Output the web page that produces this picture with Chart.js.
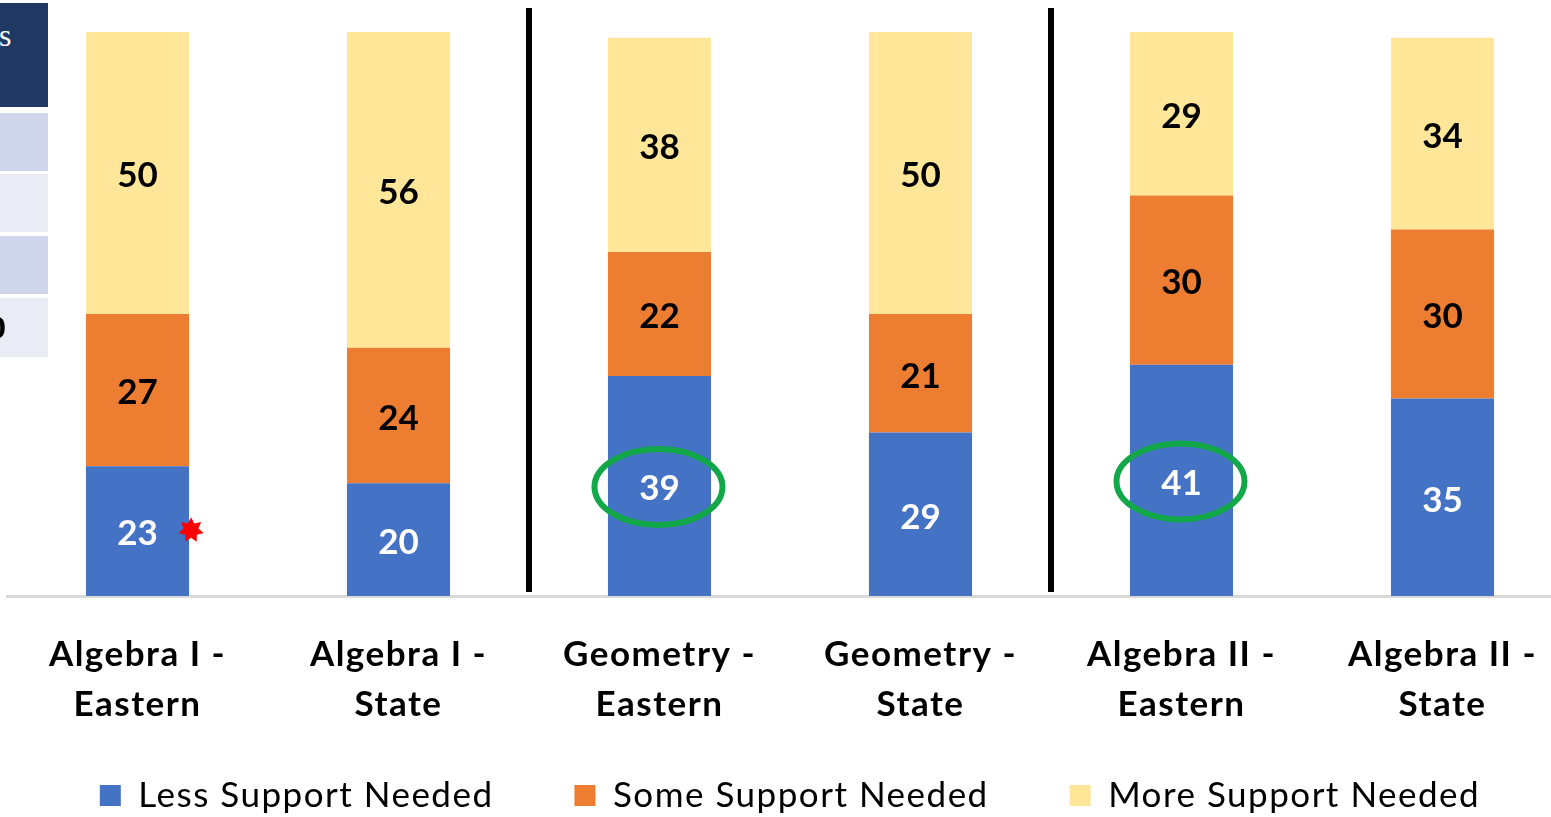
<!DOCTYPE html>
<html>
<head>
<meta charset="utf-8">
<script src="https://cdn.jsdelivr.net/npm/chart.js@4/dist/chart.umd.min.js"></script>
<style>
  body { margin: 0; overflow: hidden; background: #fff; width: 1551px; height: 817px; position: relative; }
  #myChart { position: absolute; left: 0; top: 0; }
  .cell { position: absolute; left: 0; width: 48px; overflow: hidden; }
  .head { top: 3px; height: 104px; background: #203864; }
  .head span { position: absolute; left: -1px; top: 14px; color: #fff; font: 32px 'Liberation Serif', serif; }
  .r1 { top: 113px; height: 58px; background: #cfd5ea; }
  .r2 { top: 174px; height: 58px; background: #e9ebf5; }
  .r3 { top: 236px; height: 58px; background: #cfd5ea; }
  .r4 { top: 298px; height: 59px; background: #e9ebf5; }
  .r4 span { position: absolute; left: -10px; top: 11px; color: #000; font: bold 32px 'Liberation Serif', serif; }
</style>
</head>
<body>
<canvas id="myChart" width="1573" height="823"></canvas>
<div class="cell head"><span>s</span></div>
<div class="cell r1"></div>
<div class="cell r2"></div>
<div class="cell r3"></div>
<div class="cell r4"><span>0</span></div>
<script>
'use strict'
const labels = [
  ['Algebra I -', 'Eastern'],
  ['Algebra I -', 'State'],
  ['Geometry -', 'Eastern'],
  ['Geometry -', 'State'],
  ['Algebra II -', 'Eastern'],
  ['Algebra II -', 'State'],
]
const lessSupport = [23, 20, 39, 29, 41, 35]
const someSupport = [27, 24, 22, 21, 30, 30]
const moreSupport = [50, 56, 38, 50, 29, 34]
// marks drawn over the chart
const circled = [2, 4]
const starred = [0]
const dividers = [1.5, 3.5]

const font = 'Lato, "Open Sans", sans-serif'

// the original text is set a little loose
const spacing = {
  id: 'spacing',
  beforeLayout(chart) {
    chart.ctx.letterSpacing = '1.5px'
  },
}

// numbers in the middle of each segment
const segmentLabels = {
  id: 'segmentLabels',
  afterDatasetsDraw(chart) {
    const ctx = chart.ctx
    ctx.save()
    ctx.letterSpacing = '0px'
    ctx.font = `bold 35px ${font}`
    ctx.textAlign = 'center'
    ctx.textBaseline = 'middle'
    chart.data.datasets.forEach((ds, i) => {
      chart.getDatasetMeta(i).data.forEach((bar, j) => {
        const y = (bar.y + bar.base) / 2
        ctx.fillStyle = i === 0 ? '#ffffff' : '#000000'
        ctx.fillText(ds.data[j], bar.x, y + 3)
      })
    })
    ctx.restore()
  },
}

// divider lines, green circles and the red star
const annotations = {
  id: 'annotations',
  afterDraw(chart) {
    const ctx = chart.ctx
    const x = chart.scales.x
    const area = chart.chartArea
    ctx.save()
    ctx.strokeStyle = '#000'
    ctx.lineWidth = 6
    dividers.forEach((d) => {
      const px = (x.getPixelForValue(Math.floor(d)) + x.getPixelForValue(Math.ceil(d))) / 2
      ctx.beginPath()
      ctx.moveTo(px, 8)
      ctx.lineTo(px, area.bottom - 4)
      ctx.stroke()
    })
    const blue = chart.getDatasetMeta(0).data
    ctx.strokeStyle = '#12a849'
    ctx.lineWidth = 6
    circled.forEach((j) => {
      const bar = blue[j]
      const cy = (bar.y + bar.base) / 2 + 1
      ctx.beginPath()
      ctx.ellipse(bar.x - 1, cy, 64, 38, 0, 0, Math.PI * 2)
      ctx.stroke()
    })
    ctx.fillStyle = '#ff0000'
    starred.forEach((j) => {
      const bar = blue[j]
      const cx = bar.x + bar.width / 2 + 2
      const cy = (bar.y + bar.base) / 2 - 1
      const n = 7
      ctx.beginPath()
      for (let k = 0; k < n * 2; k++) {
        const r = k % 2 === 0 ? 13 : 7.5
        const a = -Math.PI / 2 + (k * Math.PI) / n
        ctx.lineTo(cx + r * Math.cos(a), cy + r * Math.sin(a))
      }
      ctx.closePath()
      ctx.fill()
    })
    ctx.restore()
  },
}

const ctx = document.getElementById('myChart').getContext('2d')
const myChart = new Chart(ctx, {
  type: 'bar',
  data: {
    labels: labels,
    datasets: [
      { label: 'Less Support Needed', data: lessSupport, backgroundColor: '#4472c4' },
      { label: 'Some Support Needed', data: someSupport, backgroundColor: '#ed7d31' },
      { label: 'More Support Needed', data: moreSupport, backgroundColor: '#ffe699' },
    ],
  },
  plugins: [spacing, segmentLabels, annotations],
  options: {
    responsive: false,
    animation: false,
    layout: { padding: { left: 7, top: 32, right: 0, bottom: 0 } },
    datasets: { bar: { categoryPercentage: 1, barPercentage: 0.395 } },
    scales: {
      x: {
        stacked: true,
        grid: { display: false },
        border: { display: true, color: '#d9d9d9', width: 3 },
        afterFit(scale) {
          scale.height = 122
        },
        ticks: {
          color: '#000',
          padding: 26,
          maxRotation: 0,
          autoSkip: false,
          font: { family: font, size: 35, weight: 'bold', lineHeight: 1.43 },
        },
      },
      y: {
        stacked: true,
        display: false,
        min: 0,
        max: 100,
      },
    },
    plugins: {
      tooltip: { enabled: false },
      legend: {
        position: 'bottom',
        labels: {
          color: '#000',
          boxWidth: 21,
          boxHeight: 21,
          padding: 60,
          font: { family: font, size: 35 },
          // a bit more room after the first two entries
          generateLabels(chart) {
            const items = Chart.defaults.plugins.legend.labels.generateLabels(chart)
            items.forEach((item, i) => {
              if (i < items.length - 1) item.text += '\u00a0\u00a0'
            })
            return items
          },
        },
      },
    },
  },
})
</script>
</body>
</html>
